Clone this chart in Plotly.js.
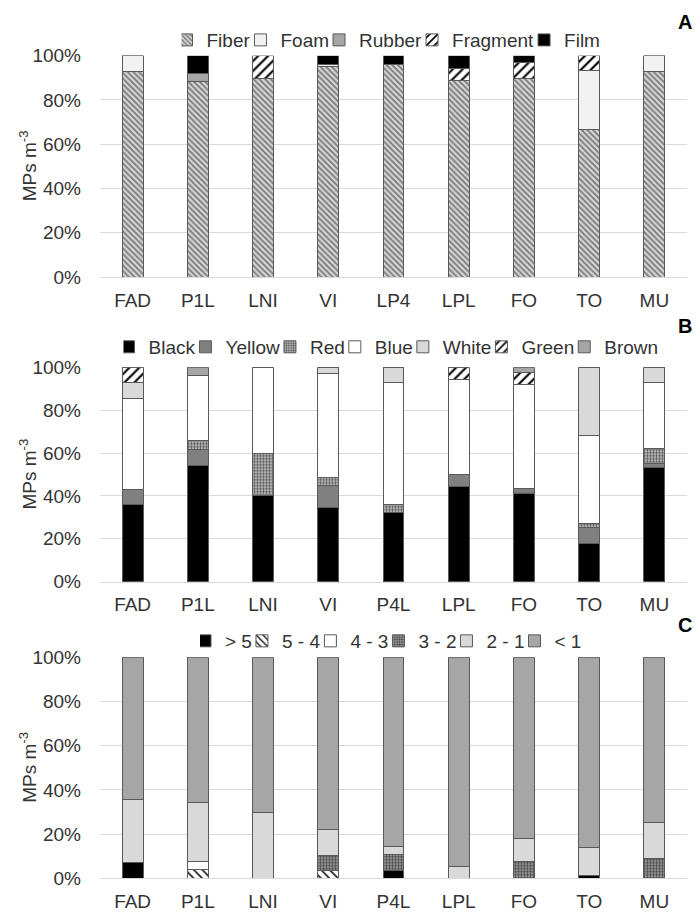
<!DOCTYPE html>
<html>
<head>
<meta charset="utf-8">
<script src="https://cdn.plot.ly/plotly-3.0.1.min.js"></script>
<style>html,body{margin:0;padding:0;background:#fff;}#chart{width:696px;height:914px;}</style>
</head>
<body>
<div id="chart"></div>
<script>
// Panel A: MP shapes
var sitesA = ["FAD", "P1L", "LNI", "VI", "LP4", "LPL", "FO", "TO", "MU"];
var fiber    = [93, 88.5, 89.5, 95, 96.2, 88.8, 89.5, 66.5, 92.7];
var foam     = [7, 0, 0, 1, 0, 0, 0, 26.8, 7.3];
var rubber   = [0, 3.5, 0, 0, 0, 0, 0, 0, 0];
var fragment = [0, 0, 10.5, 0, 0, 5.3, 7.5, 6.7, 0];
var film     = [0, 8, 0, 4, 3.8, 5.9, 3, 0, 0];

// Panel B: MP colours
var sitesB = ["FAD", "P1L", "LNI", "VI", "P4L", "LPL", "FO", "TO", "MU"];
var black  = [35.8, 54.3, 40, 34.5, 32.3, 44.3, 41.2, 17.6, 53.3];
var yellow = [7.3, 7.3, 0, 10.6, 0, 5.8, 2.3, 7.6, 1.6];
var red    = [0, 4.1, 20, 3.6, 3.5, 0, 0, 2, 7];
var blue   = [42.5, 30.7, 40, 48.3, 57.1, 44.3, 48.7, 41, 31];
var white  = [7.3, 0, 0, 3, 7.1, 0, 0, 31.8, 7.1];
var green  = [7.1, 0, 0, 0, 0, 5.6, 5.5, 0, 0];
var brown  = [0, 3.6, 0, 0, 0, 0, 2.3, 0, 0];

// Panel C: MP sizes (mm)
var sitesC = ["FAD", "P1L", "LNI", "VI", "P4L", "LPL", "FO", "TO", "MU"];
var sizeGt5 = [7.2, 0, 0, 0, 3.5, 0, 0, 1.4, 0];
var size54  = [0, 3.8, 0, 3.3, 0, 0, 0, 0, 0];
var size43  = [0, 3.9, 0, 0, 0, 0, 0, 0, 0];
var size32  = [0, 0, 0, 6.8, 7.4, 0, 7.8, 0, 9];
var size21  = [28.5, 26.5, 29.9, 12.1, 3.3, 5.3, 10, 12.6, 16.3];
var sizeLt1 = [64.3, 65.8, 70.1, 77.8, 85.8, 94.7, 82.2, 86, 74.7];

var yTicks = [0, 20, 40, 60, 80, 100];
var tickText = ["0%", "20%", "40%", "60%", "80%", "100%"];
var yTitle = "MPs m<sup>-3</sup>";
var panelLetters = ["A", "B", "C"];

var FONT = "Liberation Sans, Arial, sans-serif";
var TXT = "#333333";
var EDGE = "#595959";

function bar(name, x, y, xa, ya, legend, fill, pattern) {
  var m = {color: fill, line: {color: EDGE, width: 1}};
  if (pattern) m.pattern = pattern;
  return {type: "bar", name: name, x: x, y: y, xaxis: xa, yaxis: ya,
          legend: legend, marker: m, hoverinfo: "name+y"};
}

var hatchFine = {shape: "\\", bgcolor: "#d6d6d6", fgcolor: "#777777", size: 4, solidity: 0.45};
var hatchFwd  = {shape: "/", bgcolor: "#ffffff", fgcolor: "#000000", size: 7, solidity: 0.3};
var hatchBack = {shape: "\\", bgcolor: "#ffffff", fgcolor: "#222222", size: 6, solidity: 0.3};
var dotted    = {shape: ".", bgcolor: "#cfcfcf", fgcolor: "#555555", size: 3, solidity: 0.5};
var dottedDark= {shape: ".", bgcolor: "#a8a8a8", fgcolor: "#444444", size: 3, solidity: 0.5};

var data = [
  bar("Fiber", sitesA, fiber, "x", "y", "legend", "#c8c8c8", hatchFine),
  bar("Foam", sitesA, foam, "x", "y", "legend", "#f2f2f2"),
  bar("Rubber", sitesA, rubber, "x", "y", "legend", "#a6a6a6"),
  bar("Fragment", sitesA, fragment, "x", "y", "legend", "#ffffff", hatchFwd),
  bar("Film", sitesA, film, "x", "y", "legend", "#000000"),

  bar("Black", sitesB, black, "x2", "y2", "legend2", "#000000"),
  bar("Yellow", sitesB, yellow, "x2", "y2", "legend2", "#808080"),
  bar("Red", sitesB, red, "x2", "y2", "legend2", "#a0a0a0", dotted),
  bar("Blue", sitesB, blue, "x2", "y2", "legend2", "#ffffff"),
  bar("White", sitesB, white, "x2", "y2", "legend2", "#d9d9d9"),
  bar("Green", sitesB, green, "x2", "y2", "legend2", "#ffffff", hatchFwd),
  bar("Brown", sitesB, brown, "x2", "y2", "legend2", "#a6a6a6"),

  bar("> 5", sitesC, sizeGt5, "x3", "y3", "legend3", "#000000"),
  bar("5 - 4", sitesC, size54, "x3", "y3", "legend3", "#ffffff", hatchBack),
  bar("4 - 3", sitesC, size43, "x3", "y3", "legend3", "#ffffff"),
  bar("3 - 2", sitesC, size32, "x3", "y3", "legend3", "#8c8c8c", dottedDark),
  bar("2 - 1", sitesC, size21, "x3", "y3", "legend3", "#d9d9d9"),
  bar("< 1", sitesC, sizeLt1, "x3", "y3", "legend3", "#a6a6a6")
];

function yax(domain) {
  return {domain: domain, range: [0, 100], tickvals: yTicks, ticktext: tickText,
          showgrid: true, gridcolor: "#d9d9d9", gridwidth: 1, zeroline: false,
          showline: false, ticks: "", ticklabelstandoff: 18,
          tickfont: {family: FONT, size: 19, color: TXT}, fixedrange: true};
}
function xax(anchor) {
  return {anchor: anchor, domain: [0, 1], showline: true, linecolor: "#d9d9d9", linewidth: 1,
          ticks: "", showgrid: false, ticklabelstandoff: 6,
          tickfont: {family: FONT, size: 19, color: TXT}, fixedrange: true};
}
function leg(y) {
  return {orientation: "h", x: 0.5, xanchor: "center", y: y, yanchor: "middle",
          traceorder: "normal", font: {family: FONT, size: 19, color: TXT},
          bgcolor: "rgba(0,0,0,0)", itemwidth: 30, indentation: -15, itemclick: false};
}

var domains = [[0.6969, 0.9391], [0.3636, 0.5981], [0.0391, 0.2809]];
var letterY = [22, 326, 625];
var annotations = [];
for (var i = 0; i < 3; i++) {
  annotations.push({text: "<b>" + panelLetters[i] + "</b>", xref: "paper", yref: "paper",
    x: (685 - 100) / 587, y: 1 - letterY[i] / 914, showarrow: false,
    xanchor: "center", yanchor: "middle", font: {family: FONT, size: 20, color: "#000"}});
  annotations.push({text: yTitle, xref: "paper", yref: "paper", textangle: -90,
    x: (28 - 100) / 587, y: (domains[i][0] + domains[i][1]) / 2, showarrow: false,
    xanchor: "center", yanchor: "middle", font: {family: FONT, size: 19, color: TXT}});
}

var layout = {
  width: 696, height: 914,
  margin: {l: 100, r: 9, t: 0, b: 0},
  paper_bgcolor: "#ffffff", plot_bgcolor: "#ffffff",
  barmode: "stack", bargap: 0.68,
  showlegend: true,
  font: {family: FONT, color: TXT},
  xaxis: xax("y"), yaxis: yax(domains[0]),
  xaxis2: xax("y2"), yaxis2: yax(domains[1]),
  xaxis3: xax("y3"), yaxis3: yax(domains[2]),
  legend: leg(0.9562),
  legend2: leg(0.6204),
  legend3: leg(0.2987),
  annotations: annotations
};

Plotly.newPlot("chart", data, layout, {displayModeBar: false, staticPlot: true});
</script>
</body>
</html>
